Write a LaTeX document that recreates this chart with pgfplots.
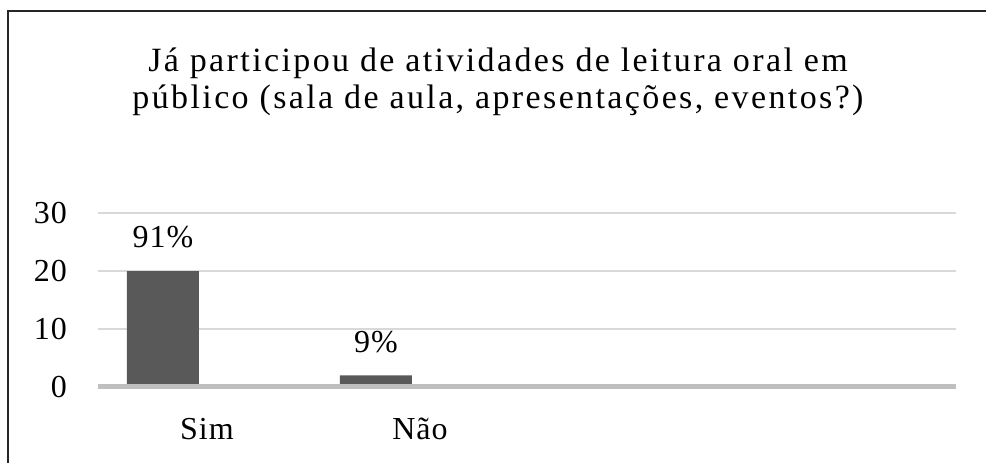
\documentclass[border=0pt]{standalone}
\usepackage{fontspec}
\setmainfont[LetterSpace=3]{Liberation Serif}
\usepackage{pgfplots}
\pgfplotsset{compat=1.18}
\definecolor{barc}{HTML}{595959}
\definecolor{gridc}{HTML}{D9D9D9}
\definecolor{axc}{HTML}{BFBFBF}
\begin{document}
\fontsize{32}{38}\selectfont
\begin{tikzpicture}
\useasboundingbox (0pt,0pt) rectangle (986pt,463pt);
\draw[line width=1.5pt, black!85] (8pt,0pt) -- (8pt,452pt) -- (986pt,452pt);
\node[anchor=base, inner sep=0pt, font=\fontsize{34}{40}\selectfont\addfontfeature{LetterSpace=7}] at (498pt,391pt) {Já participou de atividades de leitura oral em};
\node[anchor=base, inner sep=0pt, font=\fontsize{34}{40}\selectfont\addfontfeature{LetterSpace=7}] at (498pt,354pt) {público (sala de aula, apresentações, eventos?)};
\begin{axis}[at={(98pt,76pt)}, anchor=south west, scale only axis, width=858pt, height=174pt,
  xmin=-0.305, xmax=3.723, ymin=0, ymax=30, ytick={0,10,20,30}, xtick={0,1}, xticklabels={Sim,Não},
  axis line style={draw=none}, ymajorgrids, grid style={gridc, line width=1.2pt}, major tick length=0pt,
  ybar, bar width=72pt,
  /pgf/number format/assume math mode=true,
  yticklabel style={anchor=east, inner sep=0pt, xshift=-31pt},
  xticklabel style={anchor=base, inner sep=0pt, xshift=44pt, yshift=-53pt},
  point meta=explicit symbolic, nodes near coords,
  every node near coord/.append style={anchor=base, inner sep=0pt, yshift=23pt},
  clip=false]
\addplot[fill=barc, draw=none] coordinates {(0,20) [91\%] (1,2) [9\%]};
\draw[axc, line width=5pt] (axis cs:-0.305,0) -- (axis cs:3.723,0);
\end{axis}
\end{tikzpicture}
\end{document}
